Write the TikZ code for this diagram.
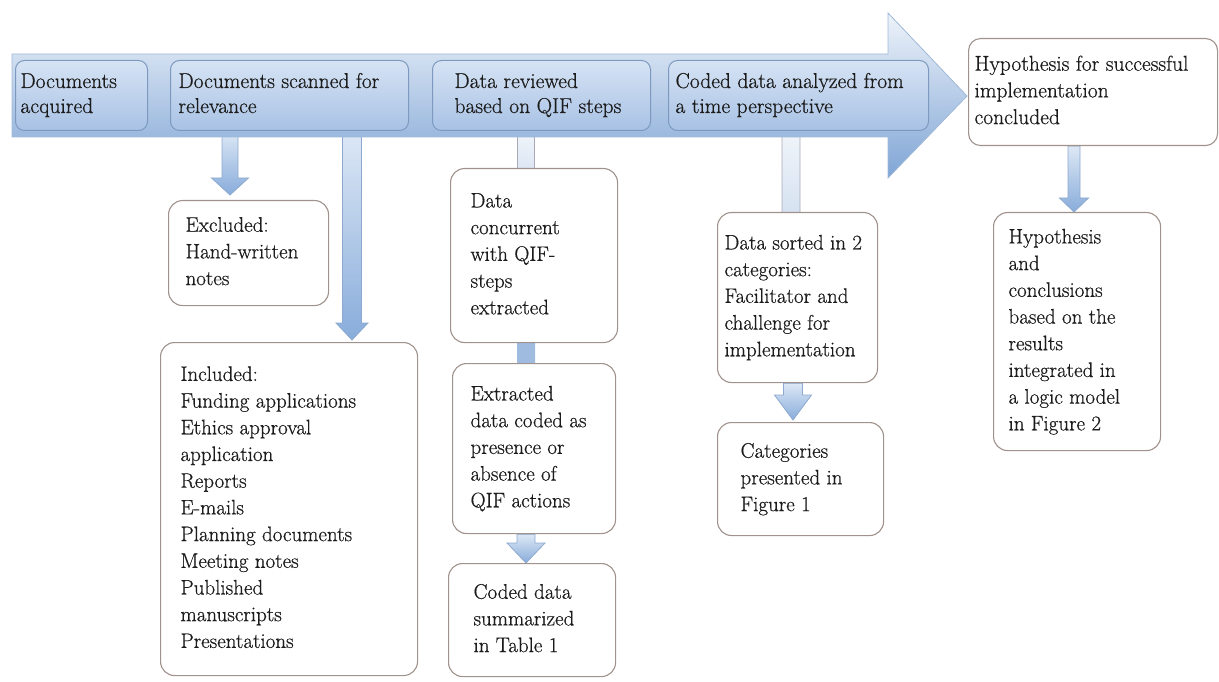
\documentclass[tikz,border=0pt]{standalone}
\usepackage{fontspec}
\setmainfont{Latin Modern Roman}[FakeBold=0.6]
\usetikzlibrary{calc}
\pgfdeclarelayer{bg}
\pgfsetlayers{bg,main}
\definecolor{txt}{HTML}{1C1C1C}
\definecolor{boxline}{HTML}{A0928C}
\definecolor{bline}{HTML}{7D99C0}
\definecolor{btop}{HTML}{D6E3F4}
\definecolor{bbot}{HTML}{A8C2E5}
\definecolor{atop}{HTML}{EEF3FA}
\definecolor{abot}{HTML}{7FA5D5}
\definecolor{aline}{HTML}{9FB8D8}
\definecolor{dtop}{HTML}{DDE8F5}
\definecolor{dbot}{HTML}{88ACDB}
\definecolor{dline}{HTML}{8DA9CF}
\definecolor{ltop}{HTML}{F1F5FA}
\definecolor{lbot}{HTML}{CCDBEE}
\definecolor{lline}{HTML}{A9A9B9}
\definecolor{solid}{HTML}{9FBBE0}

% name, x1, y1, x2, y2, style, left pad, text
\newcommand\flowbox[8]{%
  \node[#6, anchor=north west, inner sep=0pt, minimum width=#4-#2, minimum height=#5-#3] (#1) at (#2,#3)
    {\makebox[\dimexpr#4pt-#2pt\relax][l]{\hspace*{#7pt}\begin{tabular}{@{}l@{}}#8\end{tabular}}};}

% style, x, from, to, shaft half width, head half width, head length
\newcommand\blockarr[7]{%
  \path[#1] let \p1=#3, \p2=#4 in
    (#2pt-#5pt,\y1) -- (#2pt+#5pt,\y1) -- (#2pt+#5pt,\y2+#7pt) -- (#2pt+#6pt,\y2+#7pt)
    -- (#2pt,\y2) -- (#2pt-#6pt,\y2+#7pt) -- (#2pt-#5pt,\y2+#7pt) -- cycle;}

\begin{document}
\begin{tikzpicture}[x=1pt,y=-1pt,
  wbox/.style={draw=boxline, fill=white, rounded corners=14pt, line width=1.1pt,
    font=\fontsize{21}{26.7}\selectfont, text=txt},
  bbox/.style={draw=bline, top color=btop, bottom color=bbot, rounded corners=9pt, line width=1pt,
    font=\fontsize{21.5}{25}\selectfont, text=txt},
  hbox/.style={wbox, rounded corners=12pt, font=\fontsize{21.5}{26.7}\selectfont},
  bigarrow/.style={top color=atop, bottom color=abot, draw=aline, line width=0.8pt},
  arrowA/.style={top color=dtop, bottom color=dbot, draw=dline, line width=0.8pt},
  arrowB/.style={top color=ltop, bottom color=lbot, draw=lline, line width=0.9pt},
  arrowC/.style={fill=solid, draw=none}]
\useasboundingbox (0,0) rectangle (1219,682);

% main process arrow
\path[bigarrow] (12,54) -- (888,54) -- (888,13) -- (967,96) -- (888,178) -- (888,137) -- (12,137) -- cycle;

% top row
\flowbox{acq}{15}{60}{147}{130}{bbox}{5}{Documents\\acquired}
\flowbox{scan}{170}{60}{408}{130}{bbox}{8}{Documents scanned for\\relevance}
\flowbox{rev}{432}{60}{650}{130}{bbox}{22}{Data reviewed\\based on QIF steps}
\flowbox{ana}{668}{60}{928}{130}{bbox}{7}{Coded data analyzed from\\a time perspective}
\flowbox{hyp}{968}{38}{1217}{145}{hbox}{6}{Hypothesis for successful\\implementation\\concluded}

% lower boxes
\flowbox{excl}{168}{200}{328}{305}{wbox}{17}{Excluded:\\Hand-written\\notes}
\flowbox{incl}{160}{342}{417}{675}{wbox}{20}{Included:\\Funding applications\\Ethics approval\\application\\Reports\\E-mails\\Planning documents\\Meeting notes\\Published\\manuscripts\\Presentations}
\flowbox{conc}{450}{168}{617}{342}{wbox}{20}{Data\\concurrent\\with QIF-\\steps\\extracted}
\flowbox{extr}{452}{363}{615}{533}{wbox}{18}{Extracted\\data coded as\\presence or\\absence of\\QIF actions}
\flowbox{summ}{448}{563}{615}{676}{wbox}{25}{Coded data\\summarized\\in Table 1}
\flowbox{sort}{717}{212}{877}{382}{wbox}{7}{Data sorted in 2\\categories:\\Facilitator and\\challenge for\\implementation}
\flowbox{cat}{717}{422}{883}{535}{wbox}{23}{Categories\\presented in\\Figure 1}
\flowbox{concl}{993}{212}{1160}{450}{wbox}{15}{Hypothesis\\and\\conclusions\\based on the\\results\\integrated in\\a logic model\\in Figure 2}

% down arrows (behind boxes)
\begin{pgfonlayer}{bg}
\blockarr{arrowA}{230}{(scan.south)}{($(excl.north)+(0,-5)$)}{8}{18.5}{17}
\blockarr{arrowA}{352}{(scan.south)}{($(incl.north)+(0,-2)$)}{9.5}{16}{17}
\blockarr{arrowB}{526}{(rev.south)}{($(conc.north)+(0,30)$)}{8.5}{18}{18}
\blockarr{arrowC}{526}{(conc.south)}{($(extr.north)+(0,30)$)}{9}{18}{18}
\blockarr{arrowA}{526}{(extr.south)}{(summ.north)}{9}{19}{20}
\blockarr{arrowB}{791}{(ana.south)}{($(sort.north)+(0,30)$)}{9}{18}{18}
\blockarr{arrowA}{793}{(sort.south)}{($(cat.north)+(0,-2)$)}{9.5}{18.5}{25}
\blockarr{arrowA}{1074}{(hyp.south)}{(concl.north)}{6}{14.5}{14}
\end{pgfonlayer}
\end{tikzpicture}
\end{document}
